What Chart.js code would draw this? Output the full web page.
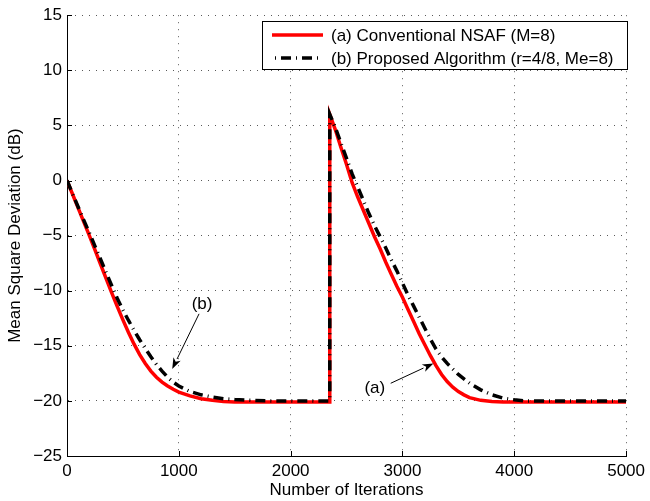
<!DOCTYPE html>
<html>
<head>
<meta charset="utf-8">
<script src="https://cdn.jsdelivr.net/npm/chart.js@4/dist/chart.umd.min.js"></script>
<style>
  html, body { margin: 0; padding: 0; background: #fff; }
  canvas { display: block; }
</style>
</head>
<body>
<canvas id="msdChart" width="650" height="501"></canvas>
<script>
// iteration index (x) - the jump happens at 2350, so it appears twice
const iterations = [
  0, 50, 100, 150, 200, 250, 300, 350, 400, 450, 500, 550, 600, 650, 700, 750, 800, 850, 900, 950, 1000,
  1100, 1200, 1300, 1400, 1500, 1600, 1800, 2000, 2200, 2350,
  2350, 2400, 2450, 2500, 2550, 2600, 2650, 2700, 2750, 2800, 2850, 2900, 2950, 3000, 3050, 3100,
  3150, 3200, 3250, 3300, 3350, 3400, 3450, 3500, 3550, 3600,
  3700, 3800, 3900, 4000, 4100, 4200, 4400, 4600, 4800, 5000
];

// (a) Conventional NSAF, MSD in dB
const msdConventional = [
  0, -1.25, -2.5, -3.75, -5.0, -6.3, -7.6, -8.9, -10.2, -11.45, -12.65, -13.8, -14.85, -15.8, -16.6, -17.3, -17.85, -18.3, -18.65, -18.95, -19.2,
  -19.55, -19.8, -19.95, -20.05, -20.1, -20.1, -20.1, -20.1, -20.1, -20.1,
  6.0, 4.6, 3.0, 1.45, -0.2, -1.5, -2.7, -3.9, -5.1, -6.2, -7.4, -8.5, -9.6, -10.6, -11.7, -12.8,
  -13.9, -14.9, -15.9, -16.8, -17.6, -18.25, -18.75, -19.15, -19.45, -19.7,
  -19.95, -20.05, -20.1, -20.1, -20.1, -20.1, -20.1, -20.1, -20.1, -20.1
];

// (b) Proposed algorithm, MSD in dB
const msdProposed = [
  0, -1.2, -2.4, -3.6, -4.75, -5.95, -7.15, -8.35, -9.55, -10.7, -11.75, -12.7, -13.6, -14.45, -15.25, -16.0, -16.7, -17.3, -17.85, -18.3, -18.65,
  -19.15, -19.45, -19.65, -19.8, -19.88, -19.93, -20.0, -20.0, -20.0, -20.0,
  6.0, 4.8, 3.4, 2.0, 0.6, -0.6, -1.8, -3.0, -4.1, -5.1, -6.1, -7.2, -8.2, -9.3, -10.4, -11.4,
  -12.4, -13.4, -14.4, -15.3, -16.0, -16.6, -17.1, -17.6, -18.0, -18.4,
  -19.0, -19.45, -19.75, -19.9, -20.0, -20.0, -20.0, -20.0, -20.0, -20.0
];

const seriesLabels = ['(a) Conventional NSAF (M=8)', '(b) Proposed Algorithm (r=4/8, Me=8)'];
const xTicks = [0, 1000, 2000, 3000, 4000, 5000];
const yTicks = [-25, -20, -15, -10, -5, 0, 5, 10, 15];

const FONT = '"Liberation Sans", Arial, Helvetica, sans-serif';

function toPoints(ys) {
  return iterations.map((x, i) => ({ x: x, y: ys[i] }));
}

function minusSign(v) {
  return v < 0 ? '\u2212' + Math.abs(v) : String(v);
}

// legend box + arrows with text, drawn on the canvas
const extrasPlugin = {
  id: 'extras',
  afterDatasetsDraw(chart) {
    const ctx = chart.ctx;
    const xs = chart.scales.x, ys = chart.scales.y;
    const area = chart.chartArea;

    // small inward tick marks (left and bottom)
    ctx.save();
    ctx.strokeStyle = '#000';
    ctx.lineWidth = 1;
    ctx.beginPath();
    yTicks.forEach(v => {
      const py = Math.round(ys.getPixelForValue(v)) + 0.5;
      ctx.moveTo(area.left, py);
      ctx.lineTo(area.left + 5, py);
    });
    xTicks.forEach(v => {
      const px = Math.round(xs.getPixelForValue(v)) + 0.5;
      ctx.moveTo(px, area.bottom);
      ctx.lineTo(px, area.bottom - 5);
    });
    ctx.stroke();
    ctx.restore();

    // annotations: label, arrow tail and tip in data units
    const notes = [
      { text: '(b)', at: [1208, -11.2], from: [1181, -12.1], to: [941, -17.1] },
      { text: '(a)', at: [2753, -18.9], from: [2895, -18.4], to: [3277, -16.6] }
    ];
    ctx.save();
    ctx.font = '17px ' + FONT;
    ctx.fillStyle = '#000';
    ctx.strokeStyle = '#000';
    ctx.textAlign = 'center';
    ctx.textBaseline = 'middle';
    notes.forEach(n => {
      ctx.fillText(n.text, xs.getPixelForValue(n.at[0]), ys.getPixelForValue(n.at[1]));
      const x1 = xs.getPixelForValue(n.from[0]), y1 = ys.getPixelForValue(n.from[1]);
      const x2 = xs.getPixelForValue(n.to[0]), y2 = ys.getPixelForValue(n.to[1]);
      const ang = Math.atan2(y2 - y1, x2 - x1);
      const headLen = 11, headW = 4;
      const bx = x2 - headLen * Math.cos(ang), by = y2 - headLen * Math.sin(ang);
      ctx.lineWidth = 1;
      ctx.beginPath();
      ctx.moveTo(x1, y1);
      ctx.lineTo(bx, by);
      ctx.stroke();
      ctx.beginPath();
      ctx.moveTo(x2, y2);
      ctx.lineTo(bx + headW * Math.sin(ang), by - headW * Math.cos(ang));
      ctx.lineTo(bx + 3 * Math.cos(ang), by + 3 * Math.sin(ang));
      ctx.lineTo(bx - headW * Math.sin(ang), by + headW * Math.cos(ang));
      ctx.closePath();
      ctx.fill();
    });
    ctx.restore();

    // legend box
    const box = { x: 262, y: 21, w: 365, h: 48 };
    const rows = [35, 58];
    ctx.save();
    ctx.fillStyle = '#fff';
    ctx.fillRect(box.x, box.y, box.w, box.h);
    ctx.strokeStyle = '#000';
    ctx.lineWidth = 1;
    ctx.strokeRect(box.x + 0.5, box.y + 0.5, box.w, box.h);
    chart.data.datasets.forEach((ds, i) => {
      const yy = rows[i];
      ctx.strokeStyle = ds.borderColor;
      ctx.lineWidth = ds.borderWidth;
      ctx.setLineDash(ds.borderDash || []);
      ctx.lineDashOffset = ds.borderDash ? 12 : 0;
      ctx.beginPath();
      ctx.moveTo(272, yy);
      ctx.lineTo(323, yy);
      ctx.stroke();
      ctx.setLineDash([]);
      ctx.fillStyle = '#000';
      ctx.font = '17px ' + FONT;
      ctx.textAlign = 'left';
      ctx.textBaseline = 'middle';
      ctx.fillText(ds.label, 331, yy + 1);
    });
    ctx.restore();
  }
};

const ctx = document.getElementById('msdChart').getContext('2d');

const msdChart = new Chart(ctx, {
  type: 'line',
  data: {
    datasets: [
      {
        label: seriesLabels[0],
        data: toPoints(msdConventional),
        borderColor: '#ff0000',
        borderWidth: 3.5,
        pointRadius: 0,
        tension: 0,
        order: 1
      },
      {
        label: seriesLabels[1],
        data: toPoints(msdProposed),
        borderColor: '#000000',
        borderWidth: 3.5,
        borderDash: [10, 5, 1, 5],
        borderCapStyle: 'butt',
        pointRadius: 0,
        tension: 0,
        order: 0
      }
    ]
  },
  options: {
    responsive: false,
    animation: false,
    devicePixelRatio: 1,
    layout: { padding: { left: 0, top: 11, right: 20, bottom: 0 } },
    plugins: {
      legend: { display: false },
      tooltip: { enabled: false }
    },
    scales: {
      x: {
        type: 'linear',
        min: 0,
        max: 5000,
        afterBuildTicks: s => { s.ticks = xTicks.map(v => ({ value: v })); },
        afterFit: s => { s.height = 45; },
        grid: { color: 'rgba(0,0,0,0.65)', lineWidth: 1, drawTicks: false },
        border: { display: true, color: '#000', width: 1, dash: [1, 6] },
        ticks: {
          color: '#000',
          font: { family: FONT, size: 17 },
          padding: 5,
          maxRotation: 0,
          callback: v => minusSign(v)
        },
        title: {
          display: true,
          text: 'Number of Iterations',
          color: '#000',
          font: { family: FONT, size: 17 },
          padding: { top: 0, bottom: 0 }
        }
      },
      y: {
        type: 'linear',
        min: -25,
        max: 15,
        afterBuildTicks: s => { s.ticks = yTicks.map(v => ({ value: v })); },
        afterFit: s => { s.width = 67; },
        grid: { color: 'rgba(0,0,0,0.65)', lineWidth: 1, drawTicks: false },
        border: { display: true, color: '#000', width: 1, dash: [1, 6] },
        ticks: {
          color: '#000',
          font: { family: FONT, size: 17 },
          padding: 5,
          callback: v => minusSign(v)
        },
        title: {
          display: true,
          text: 'Mean Square Deviation (dB)',
          color: '#000',
          font: { family: FONT, size: 17 },
          padding: { top: 5, bottom: 0 }
        }
      }
    }
  },
  plugins: [extrasPlugin]
});
</script>
</body>
</html>
